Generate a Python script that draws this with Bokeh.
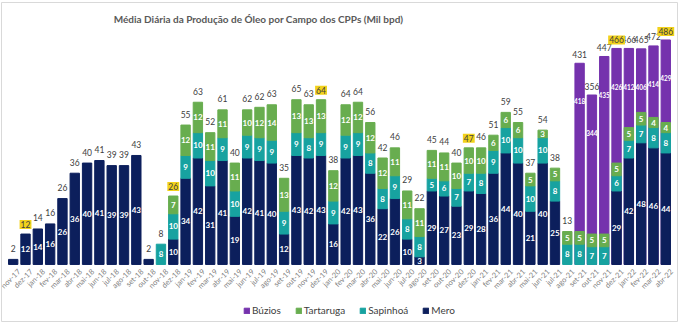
from bokeh.plotting import figure
from bokeh.models import ColumnDataSource, FactorRange, Range1d, Legend, LegendItem, Label
from bokeh.core.properties import value
from bokeh.embed import file_html
from bokeh.resources import INLINE
import math

months = ["nov-17", "dez-17",
          "jan-18", "fev-18", "mar-18", "abr-18", "mai-18", "jun-18", "jul-18", "ago-18", "set-18", "out-18", "nov-18", "dez-18",
          "jan-19", "fev-19", "mar-19", "abr-19", "mai-19", "jun-19", "jul-19", "ago-19", "set-19", "out-19", "nov-19", "dez-19",
          "jan-20", "fev-20", "mar-20", "abr-20", "mai-20", "jun-20", "jul-20", "ago-20", "set-20", "out-20", "nov-20", "dez-20",
          "jan-21", "fev-21", "mar-21", "abr-21", "mai-21", "jun-21", "jul-21", "ago-21", "set-21", "out-21", "nov-21", "dez-21",
          "jan-22", "fev-22", "mar-22", "abr-22"]

mero = [2, 12,
        14, 16, 26, 36, 40, 41, 39, 39, 43, 2, 0, 10,
        34, 42, 31, 41, 19, 42, 41, 40, 12, 43, 42, 43,
        16, 42, 43, 36, 22, 26, 10, 3, 29, 27, 23, 29,
        28, 36, 44, 40, 21, 40, 25, 0, 0, 0, 0, 29,
        42, 48, 46, 44]
sapinhoa = [0, 0,
            0, 0, 0, 0, 0, 0, 0, 0, 0, 0, 8, 10,
            9, 10, 10, 9, 10, 9, 9, 9, 9, 9, 8, 9,
            9, 9, 9, 8, 8, 9, 8, 8, 5, 6, 7, 7,
            8, 9, 10, 10, 10, 10, 8, 8, 8, 7, 7, 6,
            7, 7, 8, 8]
tartaruga = [0, 0,
             0, 0, 0, 0, 0, 0, 0, 0, 0, 0, 0, 7,
             12, 12, 11, 11, 11, 10, 12, 14, 13, 13, 13, 13,
             12, 12, 12, 12, 12, 11, 11, 11, 11, 11, 10, 10,
             10, 6, 6, 6, 5, 3, 5, 5, 5, 5, 5, 5,
             5, 5, 4, 4]
buzios = [0, 0,
          0, 0, 0, 0, 0, 0, 0, 0, 0, 0, 0, 0,
          0, 0, 0, 0, 0, 0, 0, 0, 0, 0, 0, 0,
          0, 0, 0, 0, 0, 0, 0, 0, 0, 0, 0, 0,
          0, 0, 0, 0, 0, 0, 0, 0, 418, 344, 435, 426,
          412, 406, 414, 429]
totals = [2, 12,
          14, 16, 26, 36, 40, 41, 39, 39, 43, 2, 8, 26,
          55, 63, 52, 61, 40, 62, 62, 63, 35, 65, 63, 64,
          38, 64, 64, 56, 42, 46, 29, 22, 45, 44, 40, 47,
          46, 51, 59, 55, 37, 54, 38, 13, 431, 356, 447, 466,
          466, 465, 472, 486]
highlighted = ["dez-17", "dez-18", "dez-19", "dez-20", "dez-21", "abr-22"]
title_text = "Média Diária da Produção de Óleo por Campo dos CPPs (Mil bpd)"

C_MERO = "#0c1f5c"
C_SAP = "#17a2a0"
C_TAR = "#68ad4f"
C_BUZ = "#7532ad"
C_HL = "#f2d21b"
FONT = "Lato"

# primary range: bars start at 0; room below 0 for month labels/legend, above for the title
Y_START = -22.5
Y_END = 103.35
# Búzios is drawn on a compressed secondary scale, as in the original chart
BUZ_OFFSET = 7.4
BUZ_SLOPE = 0.167
buz_start = (Y_START - BUZ_OFFSET) / BUZ_SLOPE
buz_end = (Y_END - BUZ_OFFSET) / BUZ_SLOPE
buz_zero = -BUZ_OFFSET / BUZ_SLOPE

p = figure(x_range=FactorRange(*months, range_padding=0.45, range_padding_units="absolute"),
           y_range=Range1d(Y_START, Y_END), title=None,
           width=680, height=324, output_backend="svg", toolbar_location=None,
           min_border_left=1, min_border_right=3, min_border_top=2, min_border_bottom=3)
p.extra_y_ranges = {"buz": Range1d(buz_start, buz_end)}
p.outline_line_color = "#d9d9d9"
p.outline_line_width = 1
p.grid.visible = False
p.axis.visible = False

p.add_layout(Label(x=257, y=303, x_units="screen", y_units="screen", text=title_text,
                   text_align="center", text_baseline="middle", text_font=FONT, text_font_size="10px",
                   text_font_style="bold", text_color="#595959"))

W = 0.76
n = len(months)
mb = [0] * n
mt = [m for m in mero]
sb = mt
st = [a + b for a, b in zip(mt, sapinhoa)]
tb = st
tt = [a + b for a, b in zip(st, tartaruga)]

bz_idx = [i for i in range(n) if buzios[i] > 0]
bsrc = ColumnDataSource(dict(x=[months[i] for i in bz_idx], top=[totals[i] for i in bz_idx],
                             bottom=[buz_zero] * len(bz_idx), v=[str(buzios[i]) for i in bz_idx],
                             ly=[totals[i] - 90 for i in bz_idx]))
r_buz = p.vbar(x="x", top="top", bottom="bottom", width=W, color=C_BUZ, source=bsrc, y_range_name="buz")


def seg(bottom, top, vals, color):
    idx = [i for i in range(n) if vals[i] > 0]
    src = ColumnDataSource(dict(x=[months[i] for i in idx], b=[bottom[i] for i in idx], t=[top[i] for i in idx]))
    r = p.vbar(x="x", top="t", bottom="b", width=W, color=color, source=src)
    lidx = [i for i in range(n) if vals[i] >= 3]
    lsrc = ColumnDataSource(dict(x=[months[i] for i in lidx], mid=[(bottom[i] + top[i]) / 2 for i in lidx],
                                 v=[str(vals[i]) for i in lidx]))
    p.text(x="x", y="mid", text="v", source=lsrc, text_align="center", text_baseline="middle",
           text_font=value(FONT), text_font_size="8px", text_color="white", text_font_style="bold")
    return r


r_mero = seg(mb, mt, mero, C_MERO)
r_sap = seg(sb, st, sapinhoa, C_SAP)
r_tar = seg(tb, tt, tartaruga, C_TAR)

p.text(x="x", y="ly", text="v", source=bsrc, y_range_name="buz", text_align="center", text_baseline="middle",
       text_font=value(FONT), text_font_size="6.5px", text_color="white", text_font_style="bold")

# totals above the bars
nb = [i for i in range(n) if buzios[i] == 0 and months[i] not in highlighted]
src = ColumnDataSource(dict(x=[months[i] for i in nb], y=[tt[i] for i in nb], v=[str(totals[i]) for i in nb]))
p.text(x="x", y="y", text="v", source=src, text_align="center", text_baseline="middle", y_offset=-11,
       text_font=value(FONT), text_font_size="8.5px", text_color="#404040")
bb = [i for i in bz_idx if months[i] not in highlighted]
src = ColumnDataSource(dict(x=[months[i] for i in bb], y=[totals[i] for i in bb], v=[str(totals[i]) for i in bb]))
p.text(x="x", y="y", text="v", source=src, y_range_name="buz", text_align="center", text_baseline="middle",
       y_offset=-9, text_font=value(FONT), text_font_size="8.5px", text_color="#404040")

# highlighted totals (yellow box)
for m in highlighted:
    i = months.index(m)
    if buzios[i] > 0:
        lab = Label(x=i + 0.5, y=totals[i], y_range_name="buz", y_offset=4)
    else:
        lab = Label(x=i + 0.5, y=tt[i], y_offset=5)
    lab.text = str(totals[i])
    lab.text_align = "center"
    lab.text_baseline = "bottom"
    lab.text_font = FONT
    lab.text_font_size = "8.5px"
    lab.text_color = "#404040"
    lab.background_fill_color = C_HL
    lab.padding = (1, 1)
    p.add_layout(lab)

# month labels (category axis), rotated 45°
msrc = ColumnDataSource(dict(x=months, y=[0] * n, t=months))
p.text(x="x", y="y", text="t", source=msrc, angle=math.pi / 4, text_align="right", text_baseline="middle",
       x_offset=6, y_offset=6, text_font=value(FONT), text_font_size="7.5px", text_color="#808080")

legend = Legend(items=[LegendItem(label="Búzios", renderers=[r_buz]),
                       LegendItem(label="Tartaruga", renderers=[r_tar]),
                       LegendItem(label="Sapinhoá", renderers=[r_sap]),
                       LegendItem(label="Mero", renderers=[r_mero])],
                orientation="horizontal", location=(242, 5), border_line_color=None,
                background_fill_alpha=0, label_text_font=FONT, label_text_font_size="10px",
                label_text_color="#404040", glyph_width=7, glyph_height=7, spacing=14,
                label_standoff=2, padding=0, margin=0)
p.add_layout(legend)

open("out.html", "w").write(file_html(p, INLINE))
